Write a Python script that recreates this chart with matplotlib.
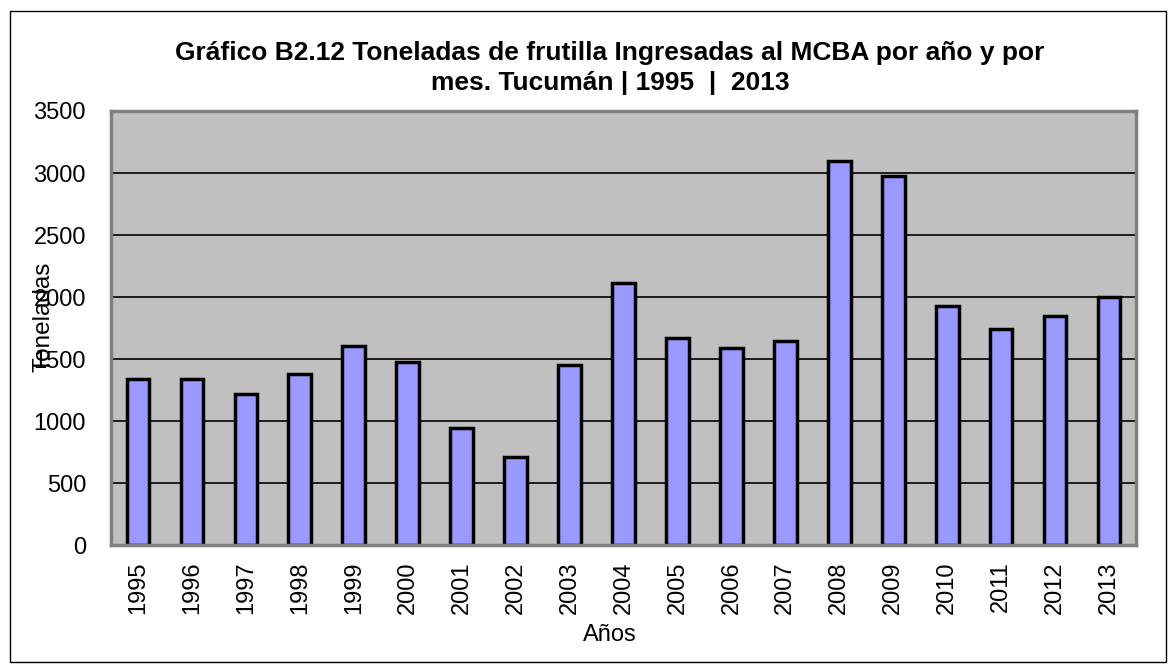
import matplotlib.pyplot as plt
from matplotlib.patches import Rectangle

# data
years = ["1995", "1996", "1997", "1998", "1999", "2000", "2001", "2002", "2003", "2004",
         "2005", "2006", "2007", "2008", "2009", "2010", "2011", "2012", "2013"]
toneladas = [1340, 1340, 1218, 1379, 1605, 1476, 943, 710, 1452, 2113,
             1669, 1589, 1645, 3100, 2976, 1927, 1742, 1847, 2000]
yticks = [0, 500, 1000, 1500, 2000, 2500, 3000, 3500]

plt.rcParams["font.family"] = ["Liberation Sans", "DejaVu Sans"]

fig = plt.figure(figsize=(11.76, 6.71), dpi=100)
ax = fig.add_axes([111 / 1176, 1 - 545 / 671, 1025 / 1176, 434 / 671])

ax.set_facecolor("#C0C0C0")
ax.set_axisbelow(True)
ax.yaxis.grid(True, color="black", linewidth=1.2)

x = list(range(len(years)))
ax.bar(x, toneladas, width=0.42, color="#9999FF", edgecolor="black", linewidth=2.5)

ax.set_xlim(-0.5, len(years) - 0.5)
ax.set_ylim(0, 3500)
ax.set_yticks(yticks)
ax.set_xticks(x)
ax.set_xticklabels(years, rotation=90, fontsize=17)
ax.tick_params(axis="y", length=0, pad=18, labelsize=17)
ax.tick_params(axis="x", length=0, pad=12)

for s in ax.spines.values():
    s.set_color("#808080")
    s.set_linewidth(2.5)

fig.text(610 / 1176, 1 - 68 / 671,
         "Gráfico B2.12 Toneladas de frutilla Ingresadas al MCBA por año y por\nmes. Tucumán | 1995  |  2013",
         ha="center", va="center", fontsize=19, fontweight="bold", linespacing=1.35)
fig.text(43 / 1176, 1 - 317 / 671, "Toneladas", rotation=90, ha="center", va="center", fontsize=17.5)
fig.text(610 / 1176, 1 - 635 / 671, "Años", ha="center", va="center", fontsize=17)

# outer chart border
fig.patches.append(Rectangle((9.5 / 1176, 1 - 662 / 671), 1156 / 1176, 651 / 671,
                             transform=fig.transFigure, fill=False,
                             edgecolor="black", linewidth=1))

fig.savefig("out.png", dpi=100)
